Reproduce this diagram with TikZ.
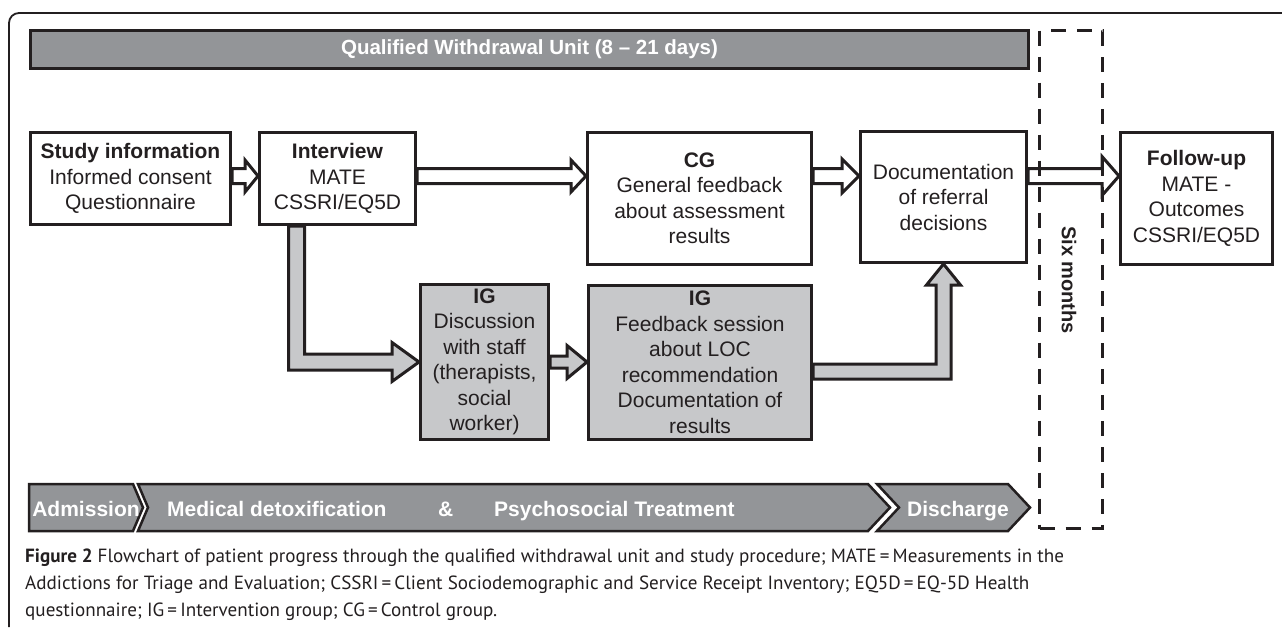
\documentclass[tikz,border=0pt]{standalone}
\usepackage{fontspec}
\setmainfont{Liberation Sans}
\newfontfamily\capfont{PT Sans}
\usepackage{tikz}
\usetikzlibrary{calc}
\usetikzlibrary{backgrounds}
\definecolor{ink}{HTML}{231F20}
\definecolor{bargray}{HTML}{939598}
\definecolor{iggray}{HTML}{C7C8CA}
\tikzstyle{box}=[shape=rectangle,draw=ink,line width=3pt,fill=white,align=center,inner sep=0pt,text=ink,font=\fontsize{21}{25.5}\selectfont]
\tikzstyle{igbox}=[box,fill=iggray]
\tikzstyle{arr}=[draw=ink,line width=3pt,line join=miter]
\tikzstyle{piece}=[draw=ink,line width=2.5pt,line join=miter,fill=bargray]
\tikzstyle{bartxt}=[text=white,font=\fontsize{21}{25}\selectfont\bfseries,inner sep=0pt,anchor=base west]
\newcommand{\harrow}[6]{\path[arr,fill=#1] let \p1=(#2), \p2=(#3) in
(\x1,\y1+#4pt) -- (\x2-#6pt,\y1+#4pt) -- (\x2-#6pt,\y1+#5pt) -- (\x2,\y1) -- (\x2-#6pt,\y1-#5pt) -- (\x2-#6pt,\y1-#4pt) -- (\x1,\y1-#4pt) -- cycle;}
\newcommand{\drarrow}[6]{\path[arr,fill=#1] let \p1=(#2), \p2=(#3) in
(\x1-#4pt,\y1) -- (\x1-#4pt,\y2-#4pt) -- (\x2-#6pt,\y2-#4pt) -- (\x2-#6pt,\y2-#5pt) -- (\x2,\y2) -- (\x2-#6pt,\y2+#5pt) -- (\x2-#6pt,\y2+#4pt) -- (\x1+#4pt,\y2+#4pt) -- (\x1+#4pt,\y1) -- cycle;}
\newcommand{\ruarrow}[6]{\path[arr,fill=#1] let \p1=(#2), \p2=(#3) in
(\x1,\y1+#4pt) -- (\x2-#4pt,\y1+#4pt) -- (\x2-#4pt,\y2-#6pt) -- (\x2-#5pt,\y2-#6pt) -- (\x2,\y2) -- (\x2+#5pt,\y2-#6pt) -- (\x2+#4pt,\y2-#6pt) -- (\x2+#4pt,\y1-#4pt) -- (\x1,\y1-#4pt) -- cycle;}

\begin{document}
\begin{tikzpicture}[x=1pt,y=-1pt]
\useasboundingbox (0,0) rectangle (1282,627);
\draw[ink,line width=1.8pt,rounded corners=10pt] (1282,13) -- (9,13) -- (9,627);

\node[box,fill=bargray,minimum width=998pt,minimum height=38pt,text=white,font=\fontsize{20.5}{24}\selectfont\bfseries] (unit) at (529.5,49.5) {Qualified Withdrawal Unit (8 – 21 days)};

\node[box,minimum width=200pt,minimum height=92pt] (study) at (130.5,178.5) {\textbf{Study information}\\Informed consent\\Questionnaire};
\node[box,minimum width=156pt,minimum height=92pt] (interview) at (337.5,178.5) {\textbf{Interview}\\MATE\\CSSRI/EQ5D};
\node[box,minimum width=224pt,minimum height=132pt] (cg) at (699.5,198.5) {\textbf{CG}\\General feedback\\about assessment\\results};
\node[box,minimum width=166pt,minimum height=131pt] (doc) at (943.5,197) {Documentation\\of referral\\decisions};
\node[box,minimum width=152pt,minimum height=132pt] (follow) at (1196.5,198.5) {\textbf{Follow-up}\\MATE -\\Outcomes\\CSSRI/EQ5D};
\node[igbox,minimum width=128pt,minimum height=155pt] (ig1) at (484.5,362) {\textbf{IG}\\Discussion\\with staff\\(therapists,\\social\\worker)};
\node[igbox,minimum width=223pt,minimum height=154pt] (ig2) at (700,362.5) {\textbf{IG}\\Feedback session\\about LOC\\recommendation\\Documentation of\\results};

\begin{scope}[on background layer]
\harrow{white}{[yshift=2.5pt]study.east}{interview.west}{7.5}{16}{13}
\harrow{white}{[yshift=2.5pt]interview.east}{cg.west}{7.5}{16}{15}
\harrow{white}{[yshift=2.5pt]cg.east|-study}{doc.west}{7.5}{17}{17}
\harrow{white}{[yshift=2.5pt]doc.east|-study}{follow.west}{7.5}{19.5}{17}
\drarrow{iggray}{[xshift=38.5pt]interview.south west}{ig1.west}{8}{19.5}{27}
\harrow{iggray}{ig1.east}{ig2.west}{6}{16.5}{20}
\ruarrow{iggray}{[yshift=-9pt]ig2.east}{doc.south}{7.5}{17}{21}
\end{scope}

\node[draw=ink,line width=3pt,dash pattern=on 15pt off 11pt,minimum width=63pt,minimum height=498pt,inner sep=0pt] (period) at (1071,279.5) {};
\node[rotate=-90,text=ink,font=\fontsize{20}{24}\selectfont\bfseries] (six) at (1069,280) {Six months};

\draw[piece] (29,484) -- (133,484) -- (143,507.5) -- (133,531) -- (29,531) -- cycle;
\draw[piece] (138,484) -- (868,484) -- (890,507.5) -- (868,531) -- (138,531) -- (148,507.5) -- cycle;
\draw[piece] (877,484) -- (1008,484) -- (1030,507.5) -- (1008,531) -- (877,531) -- (899,507.5) -- cycle;
\node[bartxt,anchor=base] (adm) at (86,516) {Admission};
\node[bartxt] (med) at (167,516) {Medical detoxification};
\node[bartxt] (amp) at (438,516) {\&};
\node[bartxt] (psy) at (494,516) {Psychosocial Treatment};
\node[bartxt] (dis) at (907,516) {Discharge};

\node[anchor=north west,align=left,inner sep=0pt,text=ink,font=\capfont\fontsize{19.1}{27}\selectfont] (caption) at (25,549) {\textbf{Figure 2} Flowchart of patient progress through the qualified withdrawal unit and study procedure; MATE\,=\,Measurements in the\\Addictions for Triage and Evaluation; CSSRI\,=\,Client Sociodemographic and Service Receipt Inventory; EQ5D\,=\,EQ-5D Health\\questionnaire; IG\,=\,Intervention group; CG\,=\,Control group.};
\end{tikzpicture}
\end{document}
